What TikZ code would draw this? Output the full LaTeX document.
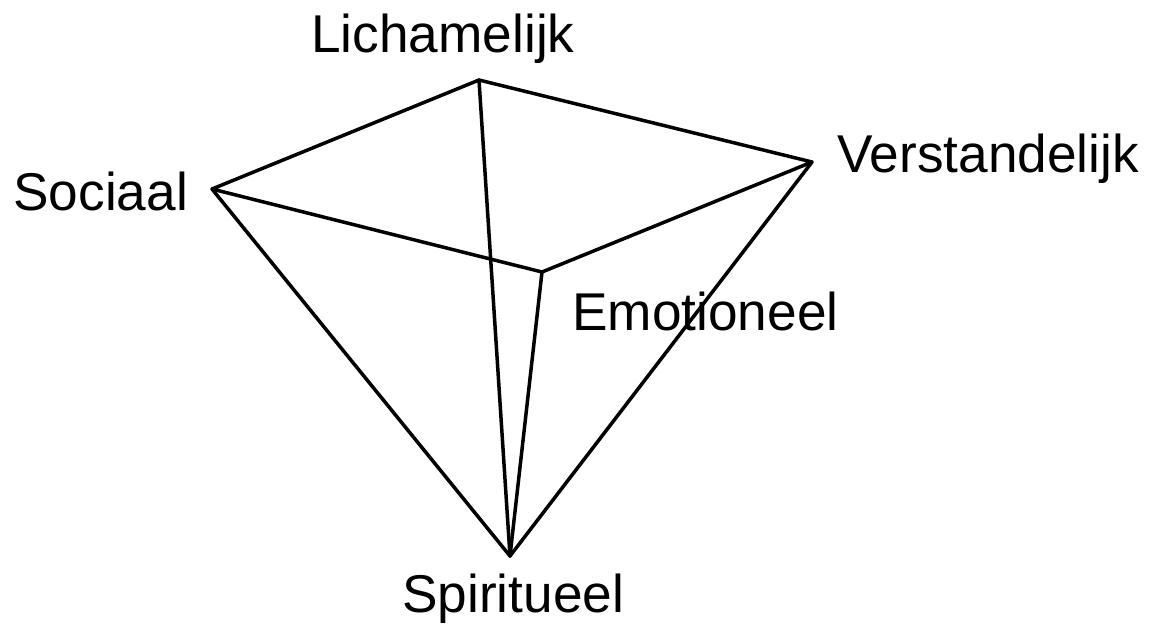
\documentclass[tikz,border=0pt]{standalone}
\usepackage{fontspec}
\setmainfont{Liberation Sans}
\usetikzlibrary{positioning}
\tikzset{
    pyramid/.style={line cap=round, line join=round,
                    font=\fontsize{26.6}{30}\selectfont},
    edge/.style={draw=black, line width=1.75pt},
    vlabel/.style={inner sep=0pt, anchor=base west},
}

\begin{document}
\begin{tikzpicture}[pyramid, x=0.5pt, y=-0.5pt]
\useasboundingbox (0,0) rectangle (1152,623);

% ─── Hoekpunten ─────────────────────────────────────────────
\coordinate (lich) at (479,80);
\coordinate (verst) at (812,162);
\coordinate (soc) at (212,189);
\coordinate (emo) at (542,272);
\coordinate (spir) at (510,556);

% ─── Ribben ─────────────────────────────────────────────────
\draw[edge] (soc) -- (lich) -- (verst) -- (emo) -- cycle;
\draw[edge] (lich) -- (spir);
\draw[edge] (soc) -- (spir) -- (verst);
\draw[edge] (emo) -- (spir);

% ─── Labels ─────────────────────────────────────────────────
\node[vlabel] (lichlbl)  at (311,52)  {Lichamelijk};
\node[vlabel] (verstlbl) at (837,172) {Verstandelijk};
\node[vlabel] (soclbl)   at (13,210)  {Sociaal};
\node[vlabel] (emolbl)   at (572,330) {Emotioneel};
\node[vlabel] (spirlbl)  at (402,612) {Spiritueel};

\end{tikzpicture}
\end{document}
